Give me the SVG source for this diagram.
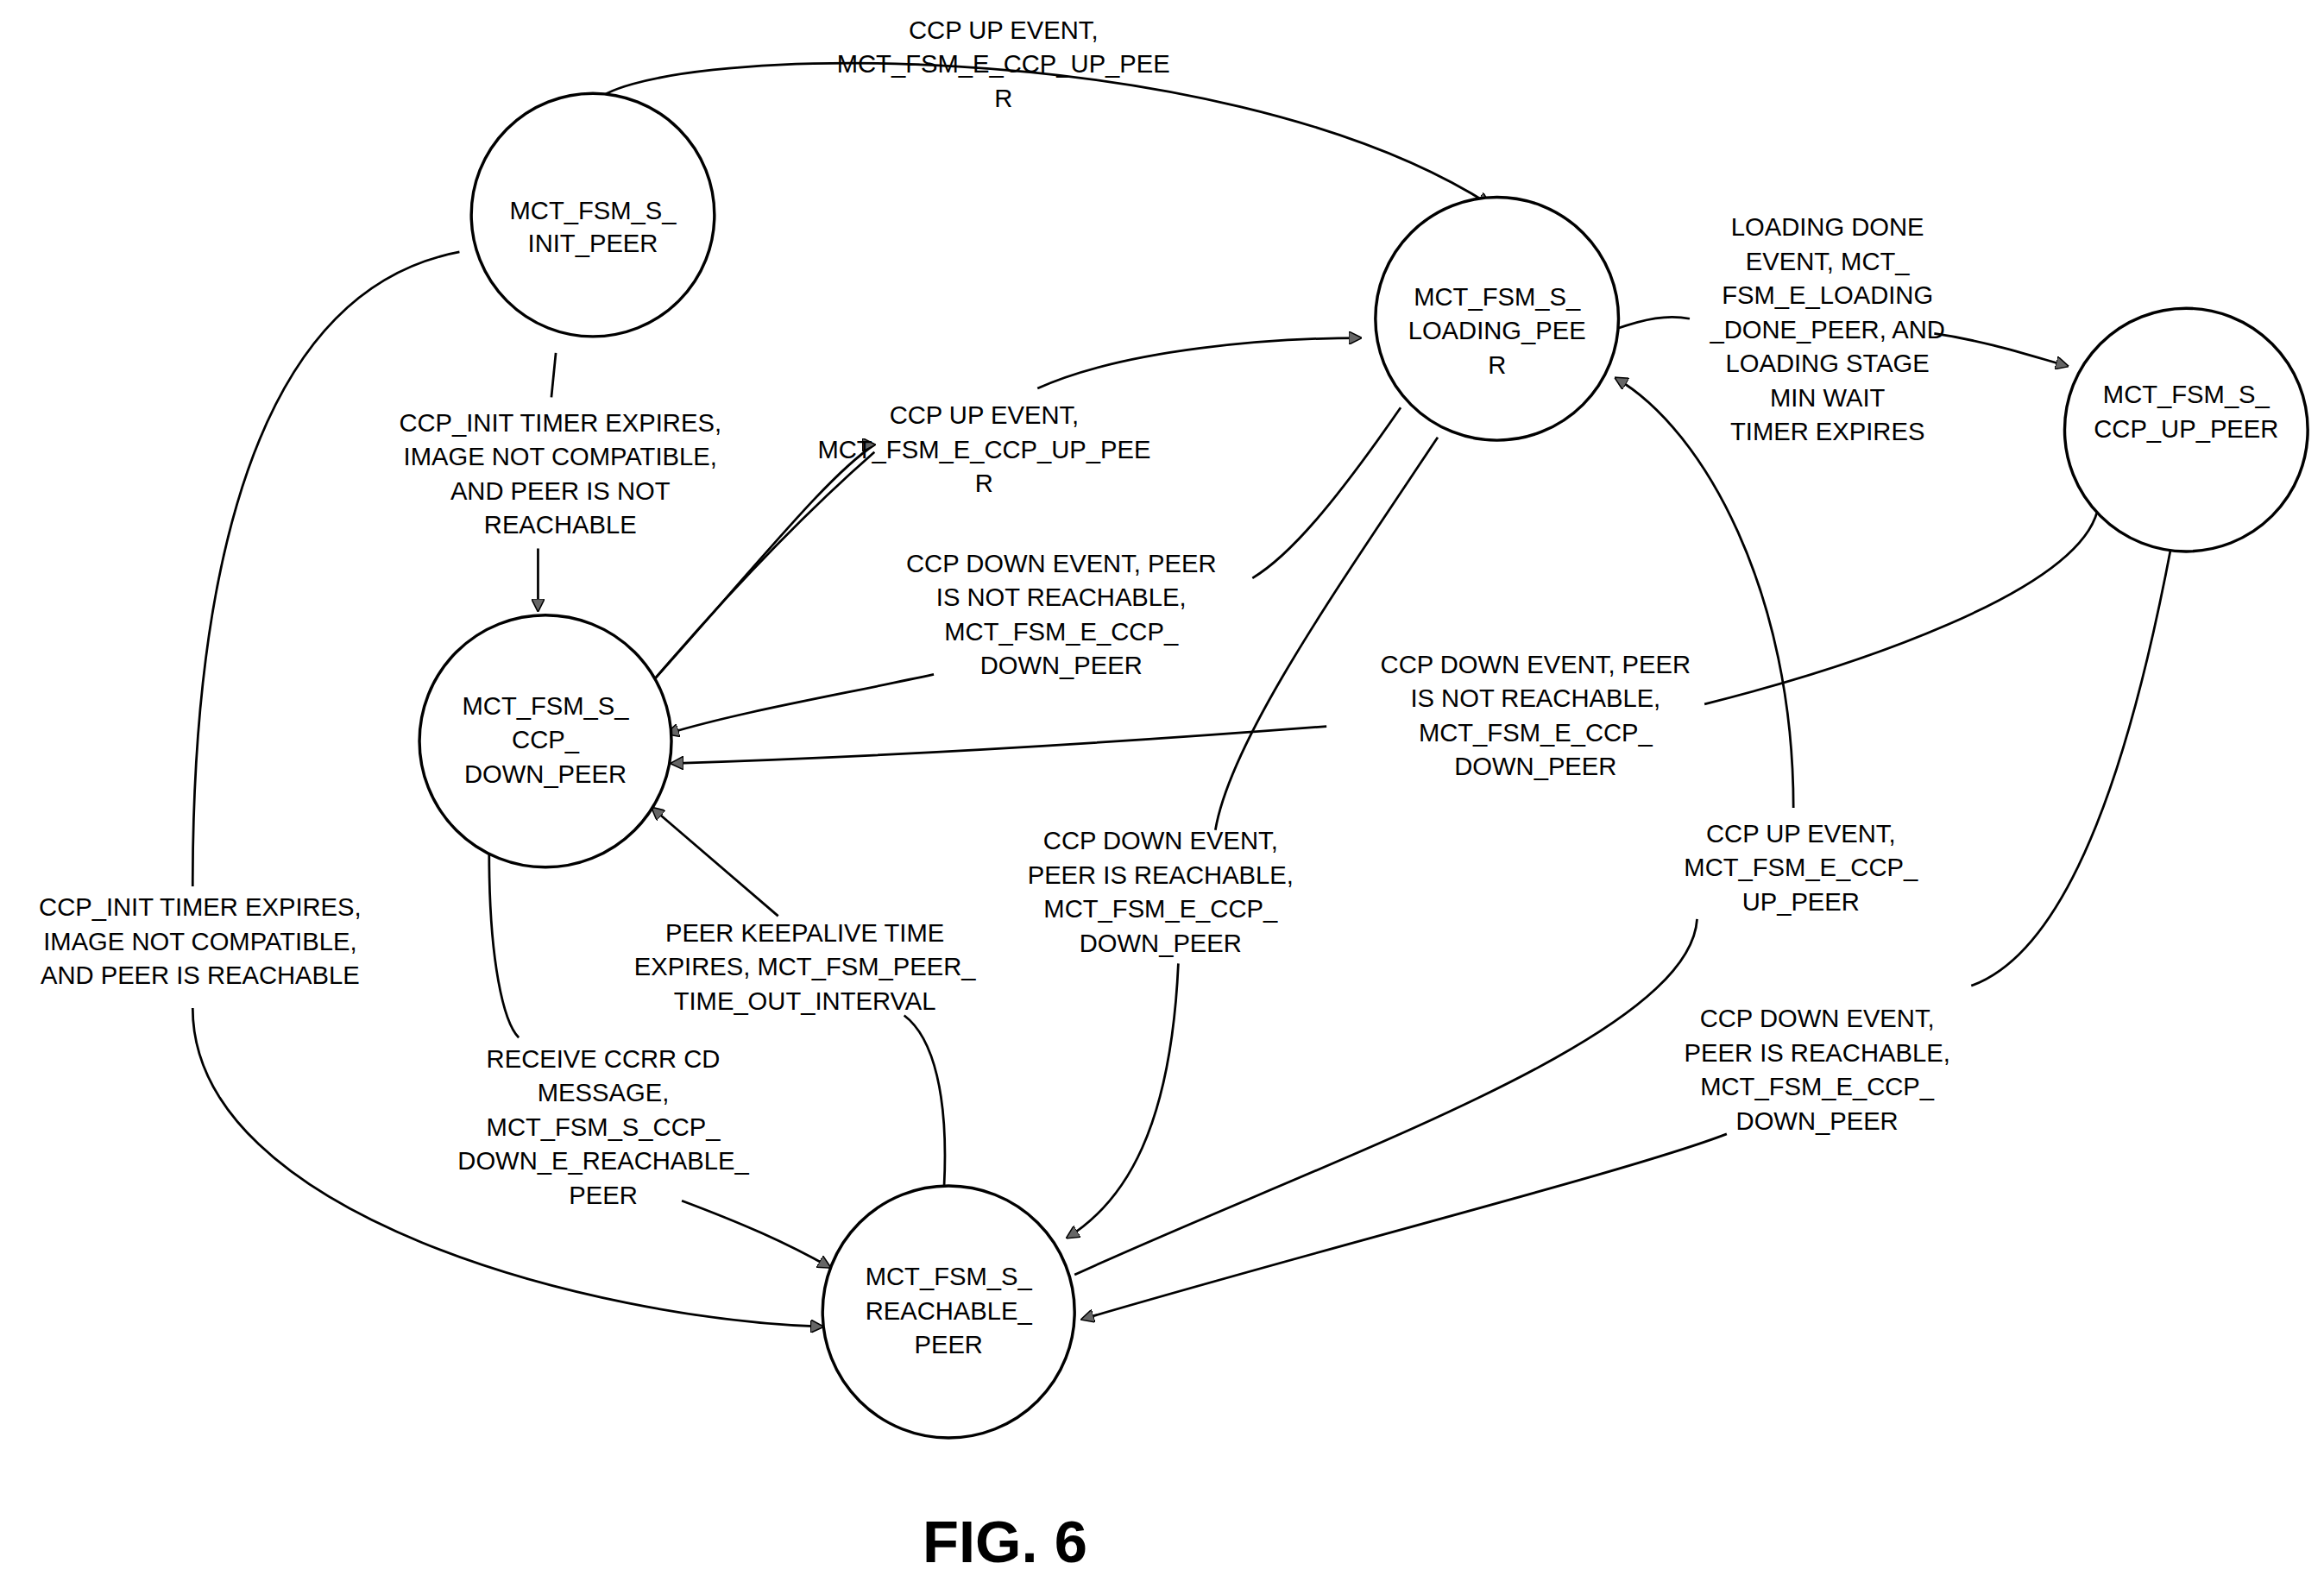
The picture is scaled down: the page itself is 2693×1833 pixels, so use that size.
<svg xmlns="http://www.w3.org/2000/svg" width="2693" height="1833" viewBox="0 0 2693 1833">
<style>
.n{fill:#fff;stroke:#000;stroke-width:2}
.t{font-family:"Liberation Sans",Arial,sans-serif;font-size:17px;text-anchor:middle;fill:#000}
.e{fill:none;stroke:#000;stroke-width:1.6;}
.a{marker-end:url(#ar)}
</style>
<defs><marker id="ar" viewBox="0 0 10 10" refX="9" refY="5" markerWidth="9" markerHeight="9" markerUnits="userSpaceOnUse" orient="auto"><path d="M0,0L10,5L0,10z" fill="#666" stroke="#000" stroke-width="1"/></marker></defs>
<rect width="2693" height="1833" fill="#fff"/>
<g transform="scale(1.7175)">
<g id="connectors">
<path class="e a" d="M400,70 C430,30 820,20 1005,138"/>
<path class="e" d="M375,238 L372,268"/><path class="e a" d="M363,370 L363,412"/>
<path class="e" d="M310,170 C150,200 130,450 130,598"/><path class="e a" d="M130,680 C130,820 400,890 555,895"/>
<path class="e a" d="M440,460 C520,370 560,320 590,300 M590,300 L590,300"/>
<path class="e a" d="M700,262 C760,235 860,228 918,228"/>
<path class="e" d="M440,460 C500,390 550,340 590,305"/>
<path class="e" d="M945,275 C900,340 870,375 845,390"/><path class="e a" d="M630,455 C560,470 500,480 450,495"/>
<path class="e" d="M1415,345 C1400,400 1250,450 1150,475"/><path class="e a" d="M895,490 C700,505 550,512 453,515"/>
<path class="e" d="M970,295 C900,400 830,500 820,560"/><path class="e a" d="M795,650 C790,760 760,810 720,835"/>
<path class="e" d="M725,860 C900,780 1140,700 1145,620"/><path class="e a" d="M1210,545 C1210,400 1150,290 1090,255"/>
<path class="e" d="M1465,368 C1440,500 1400,640 1330,665"/><path class="e a" d="M1165,765 C1100,790 900,840 730,890"/>
<path class="e" d="M1090,222 C1110,215 1125,212 1140,215"/><path class="e a" d="M1305,225 C1340,230 1370,240 1395,247"/>
<path class="e" d="M330,575 C330,650 340,690 350,700"/><path class="e a" d="M460,810 C500,825 530,838 560,855"/>
<path class="e" d="M637,800 C640,740 630,700 610,685"/><path class="e a" d="M525,618 L440,545"/>
</g>
<g id="init"><circle class="n" cx="400" cy="145" r="82"/><text class="t" x="400" y="148">MCT_FSM_S_<tspan x="400" dy="22">INIT_PEER</tspan></text></g>
<g id="loading"><circle class="n" cx="1010" cy="215" r="82"/><text class="t" x="1010" y="206">MCT_FSM_S_<tspan x="1010" dy="23">LOADING_PEE</tspan><tspan x="1010" dy="23">R</tspan></text></g>
<g id="ccpup"><circle class="n" cx="1475" cy="290" r="82"/><text class="t" x="1475" y="272">MCT_FSM_S_<tspan x="1475" dy="23">CCP_UP_PEER</tspan></text></g>
<g id="ccpdown"><circle class="n" cx="368" cy="500" r="85"/><text class="t" x="368" y="482">MCT_FSM_S_<tspan x="368" dy="23">CCP_</tspan><tspan x="368" dy="23">DOWN_PEER</tspan></text></g>
<g id="reachable"><circle class="n" cx="640" cy="885" r="85"/><text class="t" x="640" y="867">MCT_FSM_S_<tspan x="640" dy="23">REACHABLE_</tspan><tspan x="640" dy="23">PEER</tspan></text></g>
<g id="labels">
<text class="t" x="677" y="26">CCP UP EVENT,<tspan x="677" dy="23">MCT_FSM_E_CCP_UP_PEE</tspan><tspan x="677" dy="23">R</tspan></text>
<text class="t" x="378" y="291">CCP_INIT TIMER EXPIRES,<tspan x="378" dy="23">IMAGE NOT COMPATIBLE,</tspan><tspan x="378" dy="23">AND PEER IS NOT</tspan><tspan x="378" dy="23">REACHABLE</tspan></text>
<text class="t" x="135" y="618">CCP_INIT TIMER EXPIRES,<tspan x="135" dy="23">IMAGE NOT COMPATIBLE,</tspan><tspan x="135" dy="23">AND PEER IS REACHABLE</tspan></text>
<text class="t" x="664" y="286">CCP UP EVENT,<tspan x="664" dy="23">MCT_FSM_E_CCP_UP_PEE</tspan><tspan x="664" dy="23">R</tspan></text>
<text class="t" x="716" y="386">CCP DOWN EVENT, PEER<tspan x="716" dy="23">IS NOT REACHABLE,</tspan><tspan x="716" dy="23">MCT_FSM_E_CCP_</tspan><tspan x="716" dy="23">DOWN_PEER</tspan></text>
<text class="t" x="1036" y="454">CCP DOWN EVENT, PEER<tspan x="1036" dy="23">IS NOT REACHABLE,</tspan><tspan x="1036" dy="23">MCT_FSM_E_CCP_</tspan><tspan x="1036" dy="23">DOWN_PEER</tspan></text>
<text class="t" x="1233" y="159">LOADING DONE<tspan x="1233" dy="23">EVENT, MCT_</tspan><tspan x="1233" dy="23">FSM_E_LOADING</tspan><tspan x="1233" dy="23">_DONE_PEER, AND</tspan><tspan x="1233" dy="23">LOADING STAGE</tspan><tspan x="1233" dy="23">MIN WAIT</tspan><tspan x="1233" dy="23">TIMER EXPIRES</tspan></text>
<text class="t" x="783" y="573">CCP DOWN EVENT,<tspan x="783" dy="23">PEER IS REACHABLE,</tspan><tspan x="783" dy="23">MCT_FSM_E_CCP_</tspan><tspan x="783" dy="23">DOWN_PEER</tspan></text>
<text class="t" x="1215" y="568">CCP UP EVENT,<tspan x="1215" dy="23">MCT_FSM_E_CCP_</tspan><tspan x="1215" dy="23">UP_PEER</tspan></text>
<text class="t" x="1226" y="693">CCP DOWN EVENT,<tspan x="1226" dy="23">PEER IS REACHABLE,</tspan><tspan x="1226" dy="23">MCT_FSM_E_CCP_</tspan><tspan x="1226" dy="23">DOWN_PEER</tspan></text>
<text class="t" x="543" y="635">PEER KEEPALIVE TIME<tspan x="543" dy="23">EXPIRES, MCT_FSM_PEER_</tspan><tspan x="543" dy="23">TIME_OUT_INTERVAL</tspan></text>
<text class="t" x="407" y="720">RECEIVE CCRR CD<tspan x="407" dy="23">MESSAGE,</tspan><tspan x="407" dy="23">MCT_FSM_S_CCP_</tspan><tspan x="407" dy="23">DOWN_E_REACHABLE_</tspan><tspan x="407" dy="23">PEER</tspan></text>
<text x="678" y="1054" style="font-family:'Liberation Sans',Arial,sans-serif;font-size:40px;font-weight:bold;text-anchor:middle">FIG. 6</text>
</g>
</g>
</svg>
